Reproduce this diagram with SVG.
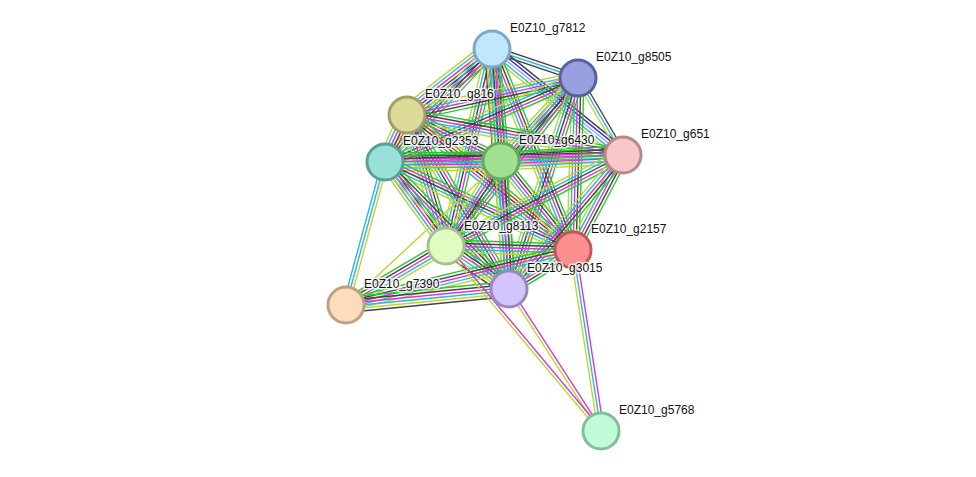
<svg xmlns="http://www.w3.org/2000/svg" xmlns:xlink="http://www.w3.org/1999/xlink" width="976" height="477" viewBox="0 0 976 477">
<style>
path{fill:none;stroke-width:1.4}
.g{stroke:#2ec42e}.r{stroke:#ff2a2a}.b{stroke:#2a2aff}.k{stroke:#444}.m{stroke:#d03cd0}.c{stroke:#30b4dc}.y{stroke:#bcd632}.l{stroke:#a0a0ff}
.node circle{stroke-width:3}
text{font-family:"Liberation Sans",Arial,sans-serif;font-size:12px;fill:#111;stroke:#fff;stroke-width:3;stroke-opacity:0.8;paint-order:stroke;stroke-linejoin:round}
</style>
<defs>
<g id="s5"><path class="g" d="M0-6H1"/><path class="k" d="M0-3H1"/><path class="m" d="M0 0H1"/><path class="c" d="M0 3H1"/><path class="y" d="M0 6H1"/></g>
<g id="s5r"><path class="g" d="M0-6H1"/><path class="m" d="M0-3H1"/><path class="k" d="M0 0H1"/><path class="c" d="M0 3H1"/><path class="y" d="M0 6H1"/></g>
<g id="s6"><path class="g" d="M0-7.5H1"/><path class="k" d="M0-4.5H1"/><path class="m" d="M0-1.5H1"/><path class="c" d="M0 1.5H1"/><path class="y" d="M0 4.5H1"/><path class="k" d="M0 7.5H1"/></g>
<g id="s7"><path class="g" d="M0-9H1"/><path class="r" d="M0-6H1"/><path class="b" d="M0-3H1"/><path class="k" d="M0 0H1"/><path class="m" d="M0 3H1"/><path class="c" d="M0 6H1"/><path class="y" d="M0 9H1"/></g>
<g id="s7e"><path class="g" d="M0-9H1"/><path class="k" d="M0-6H1"/><path class="m" d="M0-3H1"/><path class="g" d="M0 0H1"/><path class="m" d="M0 3H1"/><path class="c" d="M0 6H1"/><path class="y" d="M0 9H1"/></g>
<g id="s3k"><path class="k" d="M0-3H1"/><path class="c" d="M0 0H1"/><path class="k" d="M0 3H1"/></g>
<g id="s3b"><path class="k" d="M0-3H1"/><path class="c" d="M0 0H1"/><path class="y" d="M0 3H1"/></g>
<g id="sAF"><path class="k" d="M0-6H1"/><path class="b" d="M0-3H1"/><path class="l" d="M0 0H1"/><path class="c" d="M0 3H1"/><path class="y" d="M0 6H1"/></g>
<g id="sCH"><path class="g" d="M0-6H1"/><path class="r" d="M0-3H1"/><path class="k" d="M0 0H1"/><path class="m" d="M0 3H1"/><path class="c" d="M0 6H1"/></g>
<g id="sCD"><path class="g" d="M0-7.5H1"/><path class="r" d="M0-4.5H1"/><path class="k" d="M0-1.5H1"/><path class="m" d="M0 1.5H1"/><path class="c" d="M0 4.5H1"/><path class="y" d="M0 7.5H1"/></g>
<g id="sJD"><path class="c" d="M0-3H1"/><path class="c" d="M0 0H1"/><path class="y" d="M0 3H1"/></g>
<g id="sY"><path class="y" d="M0 0H1"/></g>
<g id="sMY"><path class="m" d="M0-1.5H1"/><path class="y" d="M0 1.5H1"/></g>
<g id="sMCY"><path class="m" d="M0-3H1"/><path class="c" d="M0 0H1"/><path class="y" d="M0 3H1"/></g>
</defs>
<g id="edges">
<use xlink:href="#s3k" transform="matrix(86,29,-0.3195,0.9476,492,49)"/>
<use xlink:href="#s7" transform="matrix(-85,66,-0.6133,-0.7899,492,49)"/>
<use xlink:href="#s5r" transform="matrix(-107,113,-0.7261,-0.6876,492,49)"/>
<use xlink:href="#s6" transform="matrix(9,112,-0.9968,0.0801,492,49)"/>
<use xlink:href="#sAF" transform="matrix(131,106,-0.6290,0.7774,492,49)"/>
<use xlink:href="#s5r" transform="matrix(-46,197,-0.9738,-0.2274,492,49)"/>
<use xlink:href="#s5" transform="matrix(81,201,-0.9275,0.3738,492,49)"/>
<use xlink:href="#s5r" transform="matrix(17,240,-0.9975,0.0707,492,49)"/>
<use xlink:href="#s5" transform="matrix(-171,37,-0.2115,-0.9774,578,78)"/>
<use xlink:href="#s5r" transform="matrix(-193,84,-0.3991,-0.9169,578,78)"/>
<use xlink:href="#s5" transform="matrix(-77,83,-0.7331,-0.6801,578,78)"/>
<use xlink:href="#s3b" transform="matrix(45,77,-0.8633,0.5045,578,78)"/>
<use xlink:href="#s5r" transform="matrix(-132,168,-0.7863,-0.6178,578,78)"/>
<use xlink:href="#s5" transform="matrix(-5,172,-0.9996,-0.0291,578,78)"/>
<use xlink:href="#s5r" transform="matrix(-69,211,-0.9505,-0.3108,578,78)"/>
<use xlink:href="#sCD" transform="matrix(-22,47,-0.9057,-0.4240,407,115)"/>
<use xlink:href="#s5" transform="matrix(94,46,-0.4396,0.8982,407,115)"/>
<use xlink:href="#s5" transform="matrix(216,40,-0.1821,0.9833,407,115)"/>
<use xlink:href="#s5" transform="matrix(39,131,-0.9584,0.2853,407,115)"/>
<use xlink:href="#sCH" transform="matrix(166,135,-0.6310,0.7758,407,115)"/>
<use xlink:href="#s5r" transform="matrix(102,174,-0.8627,0.5057,407,115)"/>
<use xlink:href="#s7e" transform="matrix(116,-1,0.0086,1,385,162)"/>
<use xlink:href="#s5" transform="matrix(238,-7,0.0294,0.9996,385,162)"/>
<use xlink:href="#s5" transform="matrix(61,84,-0.8092,0.5876,385,162)"/>
<use xlink:href="#s5r" transform="matrix(188,88,-0.4239,0.9057,385,162)"/>
<use xlink:href="#s5" transform="matrix(124,127,-0.7155,0.6986,385,162)"/>
<use xlink:href="#s7e" transform="matrix(122,-6,0.0491,0.9988,501,161)"/>
<use xlink:href="#s5" transform="matrix(-55,85,-0.8396,-0.5433,501,161)"/>
<use xlink:href="#s5" transform="matrix(72,89,-0.7774,0.6289,501,161)"/>
<use xlink:href="#s5" transform="matrix(8,128,-0.9981,0.0624,501,161)"/>
<use xlink:href="#s5r" transform="matrix(-177,91,-0.4572,-0.8894,623,155)"/>
<use xlink:href="#s5" transform="matrix(-50,95,-0.8849,-0.4658,623,155)"/>
<use xlink:href="#s5" transform="matrix(-114,134,-0.7617,-0.6480,623,155)"/>
<use xlink:href="#s5" transform="matrix(127,4,-0.0315,0.9995,446,246)"/>
<use xlink:href="#s6" transform="matrix(63,43,-0.5637,0.8259,446,246)"/>
<use xlink:href="#s5" transform="matrix(-64,39,-0.5204,-0.8539,573,250)"/>
<use xlink:href="#sJD" transform="matrix(39,-143,0.9648,0.2631,346,305)"/>
<use xlink:href="#s5" transform="matrix(100,-59,0.5081,0.8613,346,305)"/>
<use xlink:href="#sY" transform="matrix(155,-144,0.6806,0.7326,346,305)"/>
<use xlink:href="#s5" transform="matrix(227,-55,0.2355,0.9719,346,305)"/>
<use xlink:href="#s6" transform="matrix(163,-16,0.0977,0.9952,346,305)"/>
<use xlink:href="#sMY" transform="matrix(92,142,-0.8392,0.5437,509,289)"/>
<use xlink:href="#sMY" transform="matrix(155,185,-0.7665,0.6422,446,246)"/>
<use xlink:href="#sMCY" transform="matrix(28,181,-0.9883,0.1529,573,250)"/>
</g>
<g id="n_g7812" class="node"><circle cx="492" cy="49" r="18" fill="#c0e8fc" stroke="#80a8c0"/><text x="510" y="32">E0Z10_g7812</text></g>
<g id="n_g8505" class="node"><circle cx="578" cy="78" r="18" fill="#98a0e0" stroke="#5860a0"/><text x="596" y="61">E0Z10_g8505</text></g>
<g id="n_g816" class="node"><circle cx="407" cy="115" r="18" fill="#dcdc98" stroke="#a0a060"/><text x="425" y="98">E0Z10_g816</text></g>
<g id="n_g2353" class="node"><circle cx="385" cy="162" r="18" fill="#98e0d8" stroke="#5aa098"/><text x="403" y="145">E0Z10_g2353</text></g>
<g id="n_g6430" class="node"><circle cx="501" cy="161" r="18" fill="#a0e090" stroke="#68a860"/><text x="519" y="144">E0Z10_g6430</text></g>
<g id="n_g651" class="node"><circle cx="623" cy="155" r="18" fill="#f8c8c8" stroke="#b88888"/><text x="641" y="138">E0Z10_g651</text></g>
<g id="n_g8113" class="node"><circle cx="446" cy="246" r="18" fill="#e0fcc0" stroke="#a8c090"/><text x="464" y="230">E0Z10_g8113</text></g>
<g id="n_g2157" class="node"><circle cx="573" cy="250" r="18" fill="#fc9090" stroke="#c05858"/><text x="591" y="233">E0Z10_g2157</text></g>
<g id="n_g3015" class="node"><circle cx="509" cy="289" r="18" fill="#d4c4fc" stroke="#9888c0"/><text x="527" y="272">E0Z10_g3015</text></g>
<g id="n_g7390" class="node"><circle cx="346" cy="305" r="18" fill="#fcdcbc" stroke="#c0a080"/><text x="364" y="288">E0Z10_g7390</text></g>
<g id="n_g5768" class="node"><circle cx="601" cy="431" r="18" fill="#c0fcd8" stroke="#80c098"/><text x="619" y="414">E0Z10_g5768</text></g>
</svg>
